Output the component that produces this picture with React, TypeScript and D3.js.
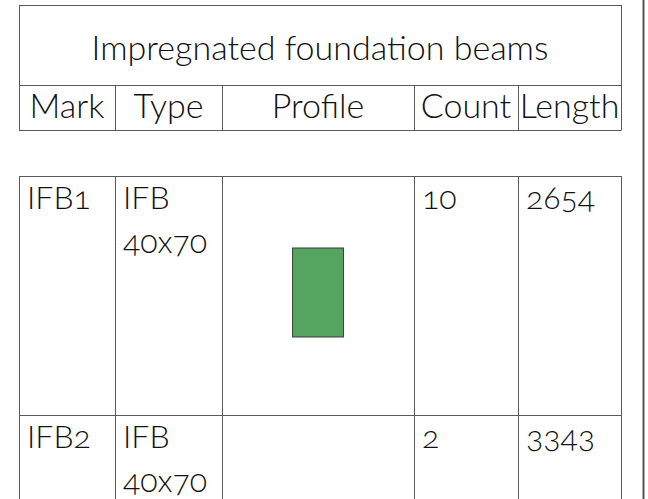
import React, { useEffect, useRef } from 'react';
import * as d3 from 'd3';

// Table contents
const title = 'Impregnated foundation beams';
const headers = ['Mark', 'Type', 'Profile', 'Count', 'Length'];
const marks = ['IFB1', 'IFB2'];
const typeNames = ['IFB', 'IFB'];
const typeSizes = ['40x70', '40x70'];
const counts = [10, 2];
const lengths = [2654, 3343];
// profile section (width x height), only the first one is in view
const profileWidths = [40];
const profileHeights = [70];

const W = 648;
const H = 499;
const FONT = 'Lato, "Open Sans", sans-serif';

const App: React.FC = () => {
  const svgRef = useRef<SVGSVGElement>(null);

  useEffect(() => {
    document.body.style.margin = '0';
    if (!svgRef.current) return;
    const svg = d3.select(svgRef.current);
    svg.selectAll('*').remove();

    // Layout
    const colEdges = [19, 115, 222, 414, 518, 621];
    const titleTop = 5;
    const headerTop = 85;
    const headerBottom = 130;
    const bodyTop = 176;
    const rowHeight = 239;
    const pad = 8;

    const lineColor = '#5a5a5a';
    const hline = (y: number, x1 = colEdges[0], x2 = colEdges[5]) =>
      svg.append('line')
        .attr('x1', x1).attr('x2', x2)
        .attr('y1', y + 0.5).attr('y2', y + 0.5)
        .attr('stroke', lineColor).attr('stroke-width', 1);
    const vline = (x: number, y1: number, y2: number) =>
      svg.append('line')
        .attr('x1', x + 0.5).attr('x2', x + 0.5)
        .attr('y1', y1).attr('y2', y2)
        .attr('stroke', lineColor).attr('stroke-width', 1);

    const addText = (x: number, y: number, t: string, size: number, anchor = 'start') =>
      svg.append('text')
        .attr('x', x)
        .attr('y', y)
        .attr('text-anchor', anchor)
        .style('font-family', FONT)
        .style('font-weight', '300')
        .style('font-size', `${size}px`)
        .style('font-variant-numeric', 'oldstyle-nums')
        .style('fill', '#111')
        .text(t);

    // Title box
    hline(titleTop);
    hline(headerTop);
    vline(colEdges[0], titleTop, headerBottom + 0.5);
    vline(colEdges[5], titleTop, headerBottom + 0.5);
    addText((colEdges[0] + colEdges[5]) / 2, 60, title, 34, 'middle');

    // Header row
    hline(headerBottom);
    colEdges.slice(1, 5).forEach(x => vline(x, headerTop, headerBottom + 0.5));
    headers.forEach((h, i) => {
      addText((colEdges[i] + colEdges[i + 1]) / 2, 118, h, 34, 'middle');
    });

    // Body rows
    const rowY = d3.scaleLinear().domain([0, 1]).range([bodyTop, bodyTop + rowHeight]);
    hline(bodyTop);
    colEdges.forEach(x => vline(x, bodyTop, H));

    // profile scale: section units -> pixels
    const unit = d3.scaleLinear().domain([0, 70]).range([0, 89]);

    marks.forEach((m, i) => {
      const top = rowY(i);
      if (i > 0) hline(top);
      const cells: string[][] = [
        [m],
        [typeNames[i], typeSizes[i]],
        [],
        [String(counts[i])],
        [String(lengths[i])],
      ];
      cells.forEach((lines, c) => {
        lines.forEach((t, k) => {
          addText(colEdges[c] + pad, top + 33 + k * 44, t, 32);
        });
      });

      if (i < profileWidths.length) {
        const pw = unit(profileWidths[i]);
        const ph = unit(profileHeights[i]);
        const cx = (colEdges[2] + colEdges[3]) / 2;
        const cy = top + rowHeight / 2 - 3;
        svg.append('rect')
          .attr('x', cx - pw / 2)
          .attr('y', cy - ph / 2)
          .attr('width', pw)
          .attr('height', ph)
          .attr('fill', '#55a460')
          .attr('stroke', '#3a3a3a')
          .attr('stroke-width', 1);
      }
    });

    // Right-hand page edge
    svg.append('line')
      .attr('x1', 643.5).attr('x2', 643.5)
      .attr('y1', 0).attr('y2', H)
      .attr('stroke', '#555')
      .attr('stroke-width', 2);
  }, []);

  return (
    <svg
      ref={svgRef}
      width={W}
      height={H}
      style={{ display: 'block', background: '#fff' }}
    />
  );
};

export default App;
